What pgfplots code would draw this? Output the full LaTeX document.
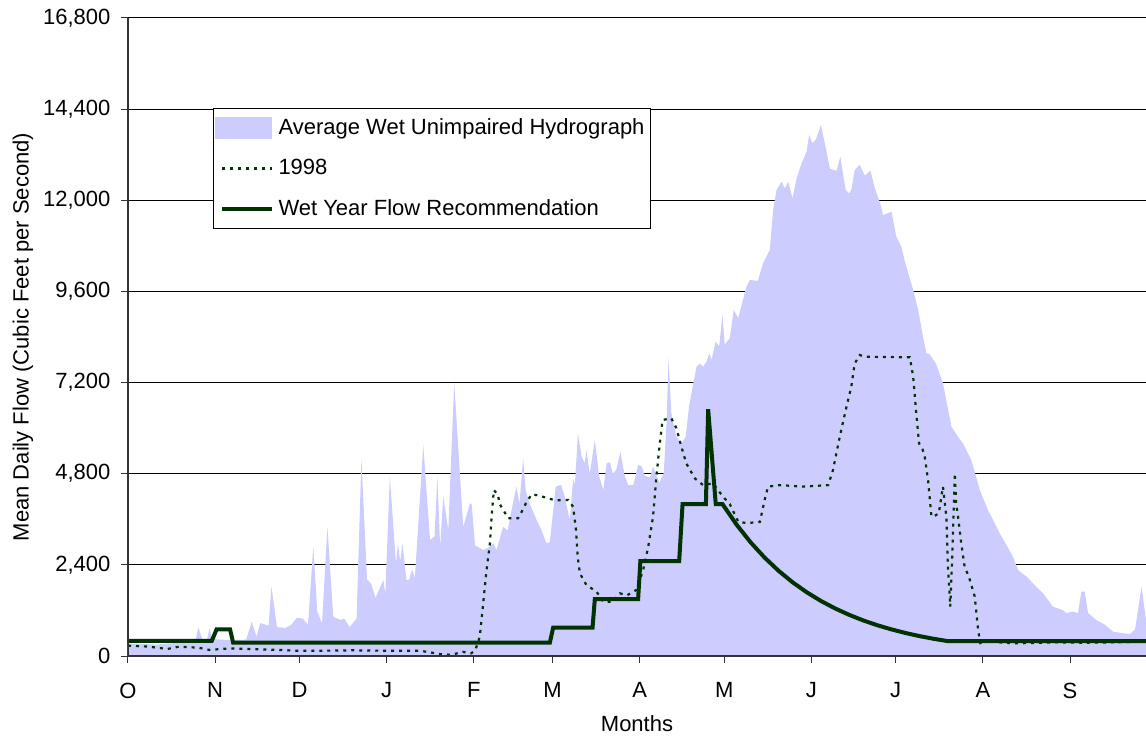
\documentclass[border=0pt]{standalone}
\usepackage{fontspec}
\setmainfont{Liberation Sans}
\usepackage{pgfplots}
\pgfplotsset{compat=1.18}
\definecolor{lav}{HTML}{CCCCFF}
\definecolor{dkgreen}{HTML}{003300}

\begin{document}
\begin{tikzpicture}[font=\fontsize{11}{13}\selectfont]
\begin{axis}[
    name=ax,
    width=509pt, height=319pt, scale only axis,
    xmin=0, xmax=362, ymin=0, ymax=16800,
    axis lines*=left,
    axis line style={black!80, line width=0.6pt},
    tick align=outside, major tick length=3.3pt,
    tick style={black!80, line width=0.5pt},
    xtick={0,31,61,92,123,151,182,212,243,273,304,335},
    xticklabels={O,N,D,J,F,M,A,M,J,J,A,S},
    xticklabel style={yshift=-6.5pt},
    ytick={0,2400,...,16800},
    yticklabel style={xshift=-2pt},
    scaled y ticks=false,
    /pgf/number format/.cd, 1000 sep={,}, fixed, assume math mode=true, /pgfplots/.cd,
    ymajorgrids, grid style={black, line width=0.5pt},
    every axis x label/.style={at={(rel axis cs:0.5,0)}, anchor=center, yshift=-34pt},
    every axis y label/.style={at={(rel axis cs:0,0.5)}, xshift=-52.5pt, rotate=90, anchor=center},
    xlabel={Months},
    ylabel={Mean Daily Flow (Cubic Feet per Second)},
    legend style={at={(rel axis cs:0.0835,0.859)}, anchor=north west, draw=black,
      line width=0.5pt, inner xsep=1pt, inner ysep=3pt, row sep=7pt,
      font=\fontsize{11}{13}\selectfont},
    legend cell align=left,
  ]

  % average wet unimpaired hydrograph
  \addplot[fill=lav, draw=none,
    legend image code/.code={\fill[lav] (0pt,-5.5pt) rectangle (28.5pt,5.5pt);}]
  coordinates {
    (0,330) (5,320) (10,300) (14,330) (20,350) (24,400) (25,760) (26.5,420)
    (28,400) (29,730) (30,450) (33,430) (38,420) (42,430) (44,905) (45.7,510)
    (47,865) (49,825) (50,800) (51,1825) (53,760) (56,740) (58,820) (60,1000)
    (62,990) (64,825) (65.9,2880) (67.3,1170) (69,860) (70.9,3400) (73,1035)
    (75.5,950) (77,980) (78.8,760) (81.3,990) (83,5200) (85,2020) (86.5,1900)
    (88,1530) (90.8,2000) (91.5,1640) (93.1,4720) (95.3,2440) (96,2965)
    (96.8,2490) (97.6,2965) (99,2000) (100,2010) (101,2280) (102,2050)
    (105,5555) (107.4,3055) (109,3150) (110,4720) (111,2880) (112.1,4195)
    (113.9,3320) (116,7200) (119.2,3400) (121.6,4020) (122.2,4000) (123.4,2920)
    (126.3,2790) (128,2850) (129.9,2970) (131,2790) (133.4,3400) (135,3300)
    (136.4,3845) (138.1,4460) (139.2,4000) (140.5,5200) (141.4,4370)
    (142.8,4020) (145.3,3580) (147,3320) (148.8,2965) (150,3000) (152.1,4460)
    (154,4510) (155.3,4190) (157.1,3580) (158.3,4675) (158.9,4500) (160,5860)
    (161.3,5250) (162.4,5080) (163,5420) (164.2,4800) (166,5690) (167.5,4750)
    (169,4370) (170.2,5075) (171.4,5100) (172.4,4800) (173.6,4900) (175.1,5380)
    (176.6,4750) (177.9,4500) (179.7,4500) (181.4,5030) (182.6,5000)
    (183.8,4750) (185.6,4700) (186.7,4990) (187.9,4750) (189,4560) (190.5,4820)
    (191.5,6125) (192.2,7840) (193.2,6390) (195,5775) (196.8,5600) (198.3,5775)
    (199.5,6565) (201,7180) (202.2,7620) (203.4,7700) (204.5,7620) (205.7,7750)
    (206.7,7970) (207.5,7800) (209,8285) (210.2,8150) (211.4,8980) (212.2,8200)
    (214,8370) (215.4,9110) (217,8900) (219.9,9725) (221.1,9900) (224,9880)
    (225.8,10340) (228.2,10690) (229.4,11745) (230.6,12270) (232.4,12490)
    (233.6,12320) (234.8,12490) (236.3,12050) (237.7,12560) (239.5,12970)
    (241.3,13280) (242.2,13720) (243.4,13500) (244.6,13600) (246.4,13980)
    (247.8,13500) (249.6,12840) (250.8,12800) (252,12780) (253.3,13150)
    (255.2,12270) (256.4,12180) (257.2,12270) (258.4,12800) (260.2,12930)
    (262,12650) (264,12780) (265.6,12310) (267.3,11960) (268.5,11610)
    (271.5,11700) (273.2,11040) (275,10780) (276.2,10400) (279.2,9640)
    (281,9110) (282.7,8410) (283.9,7970) (285,7950) (287.3,7700) (289.8,7180)
    (292.8,6040) (295.1,5775) (296.9,5600) (299.9,5160) (302.9,4370)
    (305.8,3845) (310,3230) (314.7,2615) (316.5,2265) (319.5,2090) (322.4,1870)
    (325.4,1650) (328.9,1300) (332.4,1210) (333.6,1130) (336,1170) (337.8,1130)
    (339,1695) (340.2,1695) (341.4,1130) (344.3,950) (347.3,830) (350.3,640)
    (353.9,600) (356.3,580) (358.1,700) (360.4,1825) (362,950)
  } \closedcycle;
  \addlegendentry{Average Wet Unimpaired Hydrograph}

  % 1998
  \addplot[dkgreen, line width=1.1pt, dash pattern=on 1.5pt off 2.5pt,
    legend image code/.code={\draw[dkgreen, line width=1.1pt, dash pattern=on 1.5pt off 2.5pt] (3.5pt,0pt) -- (28.5pt,0pt);}]
  coordinates {
    (0,270) (7,250) (14,185) (18,245) (25,220) (29,160) (36,200) (45,180)
    (50,170) (60,140) (70,140) (80,150) (90,140) (100,140) (103.8,140)
    (107,100) (111,50) (115,30) (119,110) (122,70) (123.5,150) (125.1,510)
    (126.3,1390) (127.5,2265) (128.7,2965) (129.3,3670) (130.1,4370)
    (131.5,4250) (132.2,4000) (135.2,3625) (138.7,3625) (140,3800)
    (141.5,4020) (143.5,4255) (146,4230) (149.4,4150) (152,4100) (156.5,4110)
    (158.3,3930) (159.3,3320) (159.9,2615) (160.7,2175) (163,1870)
    (166.6,1695) (169,1430) (172.5,1430) (174.9,1650) (177.5,1600)
    (180.8,1740) (183.2,2265) (185,2880) (186.7,3670) (187.9,4720)
    (189.1,5600) (190.1,6215) (193.2,6260) (195,6000) (196.8,5510)
    (198.5,5075) (201.6,4675) (204.5,4500) (208,4550) (210,4350) (211.6,4195)
    (214,4000) (217,3535) (220,3500) (224.7,3530) (226.4,4110) (227.6,4460)
    (231.8,4500) (240,4460) (249,4500) (250.7,4900) (253.1,5775) (255.5,6565)
    (257.2,7090) (258.4,7700) (260.2,7925) (262,7880) (278,7865) (279.2,7360)
    (280.3,6390) (281.3,5600) (282.5,5450) (283.3,5250) (284.5,4635)
    (285.7,3670) (287,3700) (288.3,3750) (289.8,4460) (291,3670) (291.5,2440)
    (292.4,1300) (293,2440) (294,4810) (294.5,4000) (295.1,3700) (296.3,2965)
    (297.5,2350) (299,2090) (301.1,1565) (302.3,685) (303.2,290) (304.6,400)
    (310,360) (315,335) (320,340) (330,360) (340,350) (350,360) (362,380)
  };
  \addlegendentry{1998}

  % wet year flow recommendation
  \addplot[dkgreen, line width=2pt,
    legend image code/.code={\draw[dkgreen, line width=2pt] (3.5pt,0pt) -- (28.5pt,0pt);}]
  coordinates {
    (0,400) (29.8,400) (31.5,700) (36.3,700) (37.4,350) (150,350) (151.2,750)
    (165.2,750) (166,1500) (181.4,1500) (182.2,2500) (196,2500) (197.2,4000)
    (205.5,4000) (206.3,6500) (209,4000) (211.4,4000) (216.4,3460)
    (221.4,2993) (226.4,2589) (231.4,2240) (236.4,1937) (241.4,1676)
    (246.4,1450) (251.4,1254) (256.4,1085) (261.4,938) (266.4,812) (271.4,702)
    (276.4,607) (281.4,525) (286.4,454) (291.4,393) (362,390)
  };
  \addlegendentry{Wet Year Flow Recommendation}

  \draw[black!80, line width=0.6pt] (rel axis cs:0,0) -- (rel axis cs:1,0);
  \draw[black!80, line width=0.6pt] (rel axis cs:0,0) -- (rel axis cs:0,1);
\end{axis}
\pgfresetboundingbox
\path[use as bounding box] ([xshift=-64pt,yshift=-42pt]ax.south west) rectangle ([yshift=9pt]ax.north east);
\end{tikzpicture}
\end{document}
